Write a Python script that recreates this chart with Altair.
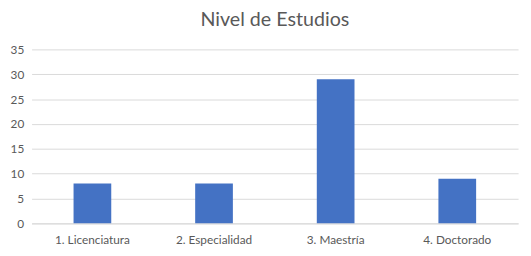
import altair as alt
import pandas as pd

categories = ["1. Licenciatura", "2. Especialidad", "3. Maestría", "4. Doctorado"]
values = [8, 8, 29, 9]

df = pd.DataFrame({"cat": categories, "val": values})

chart = alt.Chart(df).mark_bar(color="#4472C4").encode(
    x=alt.X("cat:N", sort=categories, title=None,
            scale=alt.Scale(paddingInner=0.69, paddingOuter=0.345),
            axis=alt.Axis(labelAngle=0, domain=True, domainColor="#d9d9d9", ticks=False,
                          labelColor="#595959", labelFont="Lato", labelFontSize=12, labelPadding=11)),
    y=alt.Y("val:Q", title=None,
            scale=alt.Scale(domain=[0, 35]),
            axis=alt.Axis(values=[0, 5, 10, 15, 20, 25, 30, 35], domain=False, ticks=False,
                          gridColor="#d9d9d9", labelColor="#595959", labelFont="Lato",
                          labelFontSize=12, labelPadding=8)),
).properties(
    width=495, height=177,
    title=alt.TitleParams("Nivel de Estudios", font="Lato", fontSize=20, fontWeight="normal",
                          color="#595959", offset=14),
    autosize=alt.AutoSizeParams(type="pad"),
    padding={"left": 2, "top": 0, "right": 5, "bottom": 5},
).configure_view(stroke=None)

chart.save("out.html", embed_options={"renderer": "svg", "actions": False})
